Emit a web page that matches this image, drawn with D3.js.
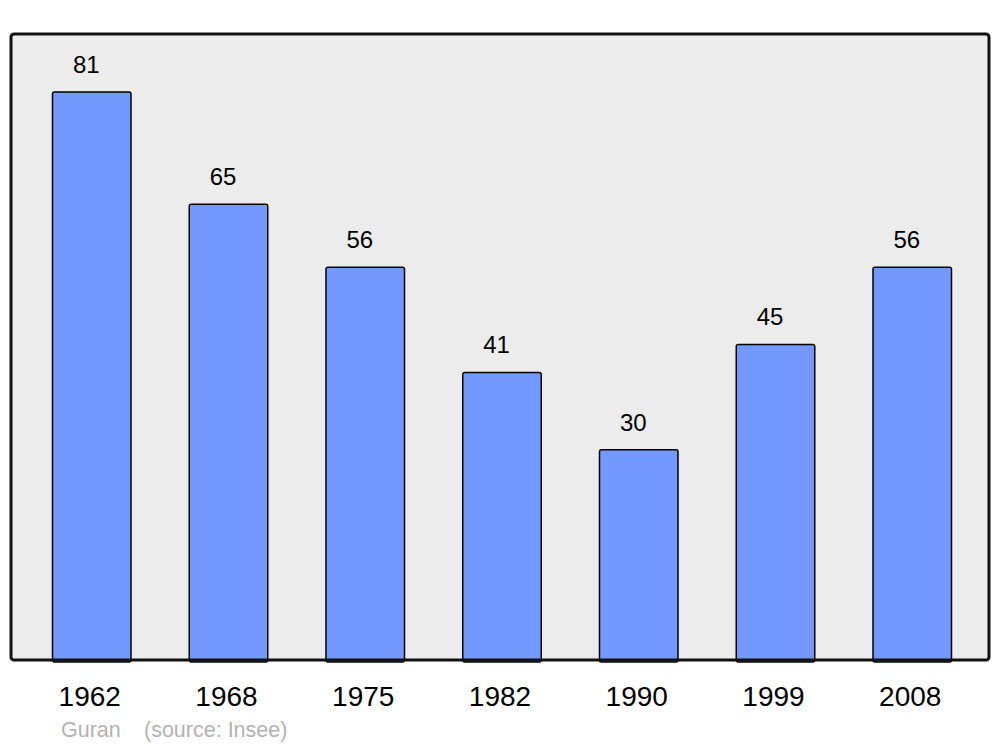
<!DOCTYPE html>
<html>
<head>
<meta charset="utf-8">
<script src="https://cdn.jsdelivr.net/npm/d3@7"></script>
<style>
  html, body { margin: 0; padding: 0; background: #ffffff; }
  svg { display: block; }
  text { font-family: "Liberation Sans", Arial, sans-serif; }
</style>
</head>
<body>
<svg id="chart" width="1000" height="747"></svg>
<script>
const years = ["1962", "1968", "1975", "1982", "1990", "1999", "2008"];
const population = [81, 65, 56, 41, 30, 45, 56];
const commune = "Guran";
const sourceLabel = "(source: Insee)";

const svg = d3.select("#chart");

const panel = { left: 11, top: 34, right: 989, bottom: 660 };

const x = d3.scaleBand()
  .domain(years)
  .range([52.5, 951.5])
  .paddingInner(0.426)
  .paddingOuter(0);

const y = d3.scaleLinear()
  .domain([0, 81])
  .range([660, 92]);

// panel background
svg.append("rect")
  .attr("x", panel.left)
  .attr("y", panel.top)
  .attr("width", panel.right - panel.left)
  .attr("height", panel.bottom - panel.top)
  .attr("rx", 3).attr("ry", 3)
  .attr("fill", "#ececec");

// bars
svg.append("g").selectAll("rect")
  .data(population)
  .join("rect")
  .attr("x", (d, i) => x(years[i]))
  .attr("y", d => y(d))
  .attr("width", x.bandwidth())
  .attr("height", d => y(0) - y(d) + 2)
  .attr("rx", 2).attr("ry", 2)
  .attr("fill", "#7399ff")
  .attr("stroke", "#000")
  .attr("stroke-width", 1.5);

// panel border
svg.append("rect")
  .attr("x", panel.left)
  .attr("y", panel.top)
  .attr("width", panel.right - panel.left)
  .attr("height", panel.bottom - panel.top)
  .attr("rx", 3).attr("ry", 3)
  .attr("fill", "none")
  .attr("stroke", "#111")
  .attr("stroke-width", 3);

// value labels
svg.append("g").selectAll("text")
  .data(population)
  .join("text")
  .attr("x", (d, i) => x(years[i]) + x.bandwidth() / 2 - 5.5)
  .attr("y", d => y(d) - 19)
  .attr("text-anchor", "middle")
  .attr("font-size", 24)
  .attr("fill", "#000")
  .text(d => d);

// x axis labels
const xAxis = d3.axisBottom(x).tickSize(0).tickPadding(0);
const gx = svg.append("g")
  .attr("transform", "translate(-2,0)")
  .call(xAxis);
gx.select(".domain").remove();
gx.selectAll("text")
  .attr("y", 705.5)
  .attr("dy", null)
  .attr("font-size", 28)
  .attr("font-family", "Liberation Sans, Arial, sans-serif")
  .attr("fill", "#000");

// source
svg.append("text")
  .attr("x", 61)
  .attr("y", 737)
  .attr("font-size", 21.5)
  .attr("fill", "#b3b3b3")
  .text(commune);
svg.append("text")
  .attr("x", 144)
  .attr("y", 737)
  .attr("font-size", 21.5)
  .attr("fill", "#b3b3b3")
  .text(sourceLabel);
</script>
</body>
</html>
